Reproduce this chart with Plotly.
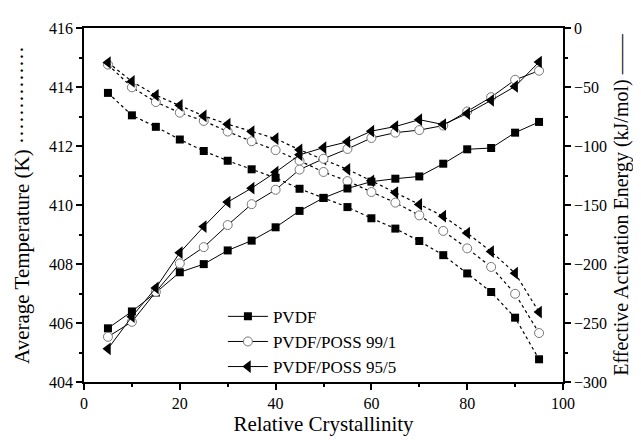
import plotly.graph_objects as go

x = [5, 10, 15, 20, 25, 30, 35, 40, 45, 50, 55, 60, 65, 70, 75, 80, 85, 90, 95]

temp_pvdf = [413.80, 413.04, 412.65, 412.22, 411.83, 411.50, 411.21, 410.92, 410.55, 410.24,
             409.93, 409.55, 409.20, 408.78, 408.30, 407.68, 407.05, 406.18, 404.77]
temp_99_1 = [414.76, 413.99, 413.49, 413.13, 412.85, 412.49, 412.16, 411.86, 411.50, 411.12,
             410.81, 410.44, 410.08, 409.65, 409.12, 408.53, 407.90, 406.99, 405.66]
temp_95_5 = [414.83, 414.19, 413.72, 413.38, 413.02, 412.74, 412.49, 412.25, 411.87, 411.55,
             411.21, 410.82, 410.42, 410.02, 409.62, 409.05, 408.42, 407.69, 406.37]

ea_pvdf = [-254.5, -240.2, -224.2, -207.0, -200.1, -188.5, -180.2, -168.9, -155.0, -144.0,
           -136.0, -130.2, -127.7, -125.8, -115.0, -102.8, -101.7, -88.7, -79.6]
ea_99_1 = [-261.7, -249.0, -223.6, -199.5, -185.7, -167.0, -149.3, -137.1, -120.0, -110.8,
           -102.5, -93.2, -88.7, -86.5, -82.7, -70.8, -58.6, -43.9, -36.2]
ea_95_5 = [-271.9, -244.6, -220.3, -190.4, -168.3, -147.5, -135.7, -122.2, -107.5, -101.4,
           -96.5, -87.4, -83.5, -77.7, -81.8, -72.5, -61.3, -49.5, -28.8]

names = ["PVDF", "PVDF/POSS 99/1", "PVDF/POSS 95/5"]

markers = [
    dict(symbol="square", size=8, color="black", line=dict(width=0)),
    dict(symbol="circle", size=9, color="white", line=dict(color="#777777", width=1)),
    dict(symbol="triangle-left", size=11, color="black", line=dict(width=0)),
]

FONT = "Liberation Serif, Times New Roman, serif"

fig = go.Figure()

for name, t, m in zip(names, [temp_pvdf, temp_99_1, temp_95_5], markers):
    fig.add_trace(go.Scatter(x=x, y=t, mode="lines+markers", name=name, showlegend=False,
                             line=dict(color="black", width=1.2, dash="dot"),
                             marker=m, yaxis="y"))

for name, e, m in zip(names, [ea_pvdf, ea_99_1, ea_95_5], markers):
    fig.add_trace(go.Scatter(x=x, y=e, mode="lines+markers", name=name,
                             line=dict(color="black", width=1),
                             marker=m, yaxis="y2"))

axis_common = dict(showline=True, linecolor="black", linewidth=1.5, ticks="outside",
                   ticklen=6, tickwidth=1.5, tickcolor="black", showgrid=False, zeroline=False,
                   tickfont=dict(family=FONT, size=16, color="black"))

fig.update_layout(
    width=633, height=432,
    margin=dict(l=69, r=74, t=12, b=58),
    paper_bgcolor="white", plot_bgcolor="white",
    font=dict(family=FONT, color="black"),
    xaxis=dict(range=[0, 100], dtick=20, tick0=0, mirror=True,
               minor=dict(ticks="outside", ticklen=3, dtick=10, tickcolor="black", tickwidth=1.5),
               title=dict(text="Relative Crystallinity", font=dict(family=FONT, size=21), standoff=0),
               **axis_common),
    yaxis=dict(range=[404, 416], dtick=2, tick0=404,
               minor=dict(ticks="outside", ticklen=3, dtick=1, tickcolor="black", tickwidth=1.5),
               title=dict(text="Average Temperature (K) ··············", font=dict(family=FONT, size=21), standoff=14),
               **axis_common),
    yaxis2=dict(range=[-300, 0], dtick=50, tick0=-300, overlaying="y", side="right",
                minor=dict(ticks="outside", ticklen=3, dtick=25, tickcolor="black", tickwidth=1.5),
                title=dict(text="Effective Activation Energy (kJ/mol) ——", font=dict(family=FONT, size=20), standoff=8),
                **axis_common),
    legend=dict(x=0.29, y=0.235, xanchor="left", yanchor="top",
                bgcolor="rgba(0,0,0,0)", font=dict(family=FONT, size=17),
                tracegroupgap=0, itemwidth=40),
)

fig.write_html("out.html")
